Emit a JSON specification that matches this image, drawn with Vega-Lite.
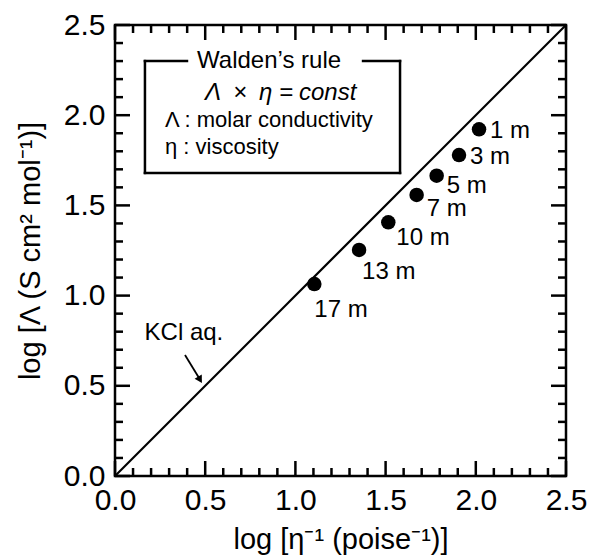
{
  "$schema": "https://vega.github.io/schema/vega-lite/v6.json",
  "width": 451,
  "height": 451,
  "autosize": {"type": "none"},
  "padding": {"left": 115, "top": 25, "right": 25, "bottom": 82},
  "background": "white",
  "config": {
    "font": "Liberation Sans",
    "view": {"stroke": "black", "strokeWidth": 2.5},
    "text": {"font": "Liberation Sans", "color": "black"}
  },
  "datasets": {
    "minorTicks": [
      {"v": 0.1}, {"v": 0.2}, {"v": 0.3}, {"v": 0.4}, {"v": 0.6}, {"v": 0.7}, {"v": 0.8}, {"v": 0.9},
      {"v": 1.1}, {"v": 1.2}, {"v": 1.3}, {"v": 1.4}, {"v": 1.6}, {"v": 1.7}, {"v": 1.8}, {"v": 1.9},
      {"v": 2.1}, {"v": 2.2}, {"v": 2.3}, {"v": 2.4}
    ],
    "majorTicks": [
      {"v": 0}, {"v": 0.5}, {"v": 1}, {"v": 1.5}, {"v": 2}, {"v": 2.5}
    ]
  },
  "layer": [
    {
      "data": {"values": [
        {"molality": "1 m", "x": 2.018, "y": 1.922},
        {"molality": "3 m", "x": 1.907, "y": 1.779},
        {"molality": "5 m", "x": 1.783, "y": 1.665},
        {"molality": "7 m", "x": 1.672, "y": 1.558},
        {"molality": "10 m", "x": 1.515, "y": 1.406},
        {"molality": "13 m", "x": 1.353, "y": 1.253},
        {"molality": "17 m", "x": 1.105, "y": 1.064}
      ]},
      "mark": {"type": "circle", "size": 210, "color": "black", "opacity": 1},
      "encoding": {
        "x": {
          "field": "x", "type": "quantitative",
          "scale": {"domain": [0, 2.5], "nice": false, "zero": false},
          "axis": {
            "orient": "bottom",
            "values": [0, 0.5, 1, 1.5, 2, 2.5],
            "format": ".1f",
            "ticks": false, "domain": false, "grid": false,
            "labelFontSize": 30, "labelColor": "black", "labelPadding": 9,
            "labelFlush": false, "labelOverlap": false,
            "title": "log [η⁻¹ (poise⁻¹)]",
            "titleFontSize": 29, "titleFontWeight": "normal", "titleColor": "black", "titlePadding": 10
          }
        },
        "y": {
          "field": "y", "type": "quantitative",
          "scale": {"domain": [0, 2.5], "nice": false, "zero": false},
          "axis": {
            "orient": "left",
            "values": [0, 0.5, 1, 1.5, 2, 2.5],
            "format": ".1f",
            "ticks": false, "domain": false, "grid": false,
            "labelFontSize": 30, "labelColor": "black", "labelPadding": 10,
            "labelFlush": false, "labelOverlap": false,
            "title": "log [Λ (S cm² mol⁻¹)]",
            "titleFontSize": 29, "titleFontWeight": "normal", "titleColor": "black", "titlePadding": 18
          }
        }
      }
    },
    {
      "data": {"name": "minorTicks"},
      "mark": {"type": "rule", "color": "black", "strokeWidth": 2.5},
      "encoding": {
        "x": {"field": "v", "type": "quantitative"},
        "y": {"datum": 0},
        "y2": {"datum": 0.0443}
      }
    },
    {
      "data": {"name": "minorTicks"},
      "mark": {"type": "rule", "color": "black", "strokeWidth": 2.5},
      "encoding": {
        "x": {"field": "v", "type": "quantitative"},
        "y": {"datum": 2.5},
        "y2": {"datum": 2.4557}
      }
    },
    {
      "data": {"name": "minorTicks"},
      "mark": {"type": "rule", "color": "black", "strokeWidth": 2.5},
      "encoding": {
        "y": {"field": "v", "type": "quantitative"},
        "x": {"datum": 0},
        "x2": {"datum": 0.0443}
      }
    },
    {
      "data": {"name": "minorTicks"},
      "mark": {"type": "rule", "color": "black", "strokeWidth": 2.5},
      "encoding": {
        "y": {"field": "v", "type": "quantitative"},
        "x": {"datum": 2.5},
        "x2": {"datum": 2.4557}
      }
    },
    {
      "data": {"name": "majorTicks"},
      "mark": {"type": "rule", "color": "black", "strokeWidth": 2.5},
      "encoding": {
        "x": {"field": "v", "type": "quantitative"},
        "y": {"datum": 0},
        "y2": {"datum": 0.0831}
      }
    },
    {
      "data": {"name": "majorTicks"},
      "mark": {"type": "rule", "color": "black", "strokeWidth": 2.5},
      "encoding": {
        "x": {"field": "v", "type": "quantitative"},
        "y": {"datum": 2.5},
        "y2": {"datum": 2.4169}
      }
    },
    {
      "data": {"name": "majorTicks"},
      "mark": {"type": "rule", "color": "black", "strokeWidth": 2.5},
      "encoding": {
        "y": {"field": "v", "type": "quantitative"},
        "x": {"datum": 0},
        "x2": {"datum": 0.0831}
      }
    },
    {
      "data": {"name": "majorTicks"},
      "mark": {"type": "rule", "color": "black", "strokeWidth": 2.5},
      "encoding": {
        "y": {"field": "v", "type": "quantitative"},
        "x": {"datum": 2.5},
        "x2": {"datum": 2.4169}
      }
    },
    {
      "data": {"values": [{"x": 0, "y": 0}, {"x": 2.5, "y": 2.5}]},
      "mark": {"type": "line", "color": "black", "strokeWidth": 2.2},
      "encoding": {
        "x": {"field": "x", "type": "quantitative"},
        "y": {"field": "y", "type": "quantitative"}
      }
    },
    {
      "data": {"values": [
        {"molality": "1 m", "x": 2.018, "y": 1.922},
        {"molality": "3 m", "x": 1.907, "y": 1.779}
      ]},
      "mark": {"type": "text", "fontSize": 24, "align": "left", "baseline": "middle", "dx": 11, "dy": 2},
      "encoding": {
        "x": {"field": "x", "type": "quantitative"},
        "y": {"field": "y", "type": "quantitative"},
        "text": {"field": "molality"}
      }
    },
    {
      "data": {"values": [
        {"molality": "5 m", "x": 1.783, "y": 1.665}
      ]},
      "mark": {"type": "text", "fontSize": 24, "align": "left", "baseline": "middle", "dx": 10, "dy": 10},
      "encoding": {
        "x": {"field": "x", "type": "quantitative"},
        "y": {"field": "y", "type": "quantitative"},
        "text": {"field": "molality"}
      }
    },
    {
      "data": {"values": [
        {"molality": "7 m", "x": 1.672, "y": 1.558}
      ]},
      "mark": {"type": "text", "fontSize": 24, "align": "left", "baseline": "middle", "dx": 10, "dy": 14},
      "encoding": {
        "x": {"field": "x", "type": "quantitative"},
        "y": {"field": "y", "type": "quantitative"},
        "text": {"field": "molality"}
      }
    },
    {
      "data": {"values": [
        {"molality": "10 m", "x": 1.515, "y": 1.406}
      ]},
      "mark": {"type": "text", "fontSize": 24, "align": "left", "baseline": "middle", "dx": 8, "dy": 16},
      "encoding": {
        "x": {"field": "x", "type": "quantitative"},
        "y": {"field": "y", "type": "quantitative"},
        "text": {"field": "molality"}
      }
    },
    {
      "data": {"values": [
        {"molality": "13 m", "x": 1.353, "y": 1.253}
      ]},
      "mark": {"type": "text", "fontSize": 24, "align": "left", "baseline": "middle", "dx": 3, "dy": 22},
      "encoding": {
        "x": {"field": "x", "type": "quantitative"},
        "y": {"field": "y", "type": "quantitative"},
        "text": {"field": "molality"}
      }
    },
    {
      "data": {"values": [
        {"molality": "17 m", "x": 1.105, "y": 1.064}
      ]},
      "mark": {"type": "text", "fontSize": 24, "align": "left", "baseline": "middle", "dx": 0, "dy": 26},
      "encoding": {
        "x": {"field": "x", "type": "quantitative"},
        "y": {"field": "y", "type": "quantitative"},
        "text": {"field": "molality"}
      }
    },
    {
      "data": {"values": [
        {"x": 0.166, "x2": 0.166, "y": 1.68, "y2": 2.30},
        {"x": 1.58, "x2": 1.58, "y": 1.68, "y2": 2.30},
        {"x": 0.166, "x2": 1.58, "y": 1.68, "y2": 1.68},
        {"x": 0.166, "x2": 0.399, "y": 2.30, "y2": 2.30},
        {"x": 1.375, "x2": 1.58, "y": 2.30, "y2": 2.30}
      ]},
      "mark": {"type": "rule", "color": "black", "strokeWidth": 2.5, "strokeCap": "square"},
      "encoding": {
        "x": {"field": "x", "type": "quantitative"},
        "x2": {"field": "x2"},
        "y": {"field": "y", "type": "quantitative"},
        "y2": {"field": "y2"}
      }
    },
    {
      "data": {"values": [{"t": "Walden’s rule", "x": 0.854, "y": 2.30}]},
      "mark": {"type": "text", "fontSize": 24, "align": "center", "baseline": "middle"},
      "encoding": {
        "x": {"field": "x", "type": "quantitative"},
        "y": {"field": "y", "type": "quantitative"},
        "text": {"field": "t"}
      }
    },
    {
      "data": {"values": [{"t": "Λ\u2002×\u2002η =", "x": 0.987, "y": 2.123}]},
      "mark": {"type": "text", "fontSize": 24, "align": "right", "baseline": "middle", "fontStyle": "italic"},
      "encoding": {
        "x": {"field": "x", "type": "quantitative"},
        "y": {"field": "y", "type": "quantitative"},
        "text": {"field": "t"}
      }
    },
    {
      "data": {"values": [{"t": "const", "x": 1.02, "y": 2.123}]},
      "mark": {"type": "text", "fontSize": 24, "align": "left", "baseline": "middle", "fontStyle": "italic"},
      "encoding": {
        "x": {"field": "x", "type": "quantitative"},
        "y": {"field": "y", "type": "quantitative"},
        "text": {"field": "t"}
      }
    },
    {
      "data": {"values": [
        {"t": "Λ : molar conductivity", "x": 0.277, "y": 1.973},
        {"t": "η : viscosity", "x": 0.277, "y": 1.824}
      ]},
      "mark": {"type": "text", "fontSize": 22, "align": "left", "baseline": "middle"},
      "encoding": {
        "x": {"field": "x", "type": "quantitative"},
        "y": {"field": "y", "type": "quantitative"},
        "text": {"field": "t"}
      }
    },
    {
      "data": {"values": [{"t": "KCl aq.", "x": 0.382, "y": 0.793}]},
      "mark": {"type": "text", "fontSize": 24, "align": "center", "baseline": "middle"},
      "encoding": {
        "x": {"field": "x", "type": "quantitative"},
        "y": {"field": "y", "type": "quantitative"},
        "text": {"field": "t"}
      }
    },
    {
      "data": {"values": [{"x": 0.388, "y": 0.671, "x2": 0.466, "y2": 0.543}]},
      "mark": {"type": "rule", "color": "black", "strokeWidth": 1.8},
      "encoding": {
        "x": {"field": "x", "type": "quantitative"},
        "x2": {"field": "x2"},
        "y": {"field": "y", "type": "quantitative"},
        "y2": {"field": "y2"}
      }
    },
    {
      "data": {"values": [{"x": 0.468, "y": 0.539}]},
      "mark": {"type": "point", "shape": "triangle", "angle": 149, "size": 70, "filled": true, "color": "black", "opacity": 1},
      "encoding": {
        "x": {"field": "x", "type": "quantitative"},
        "y": {"field": "y", "type": "quantitative"}
      }
    }
  ]
}
